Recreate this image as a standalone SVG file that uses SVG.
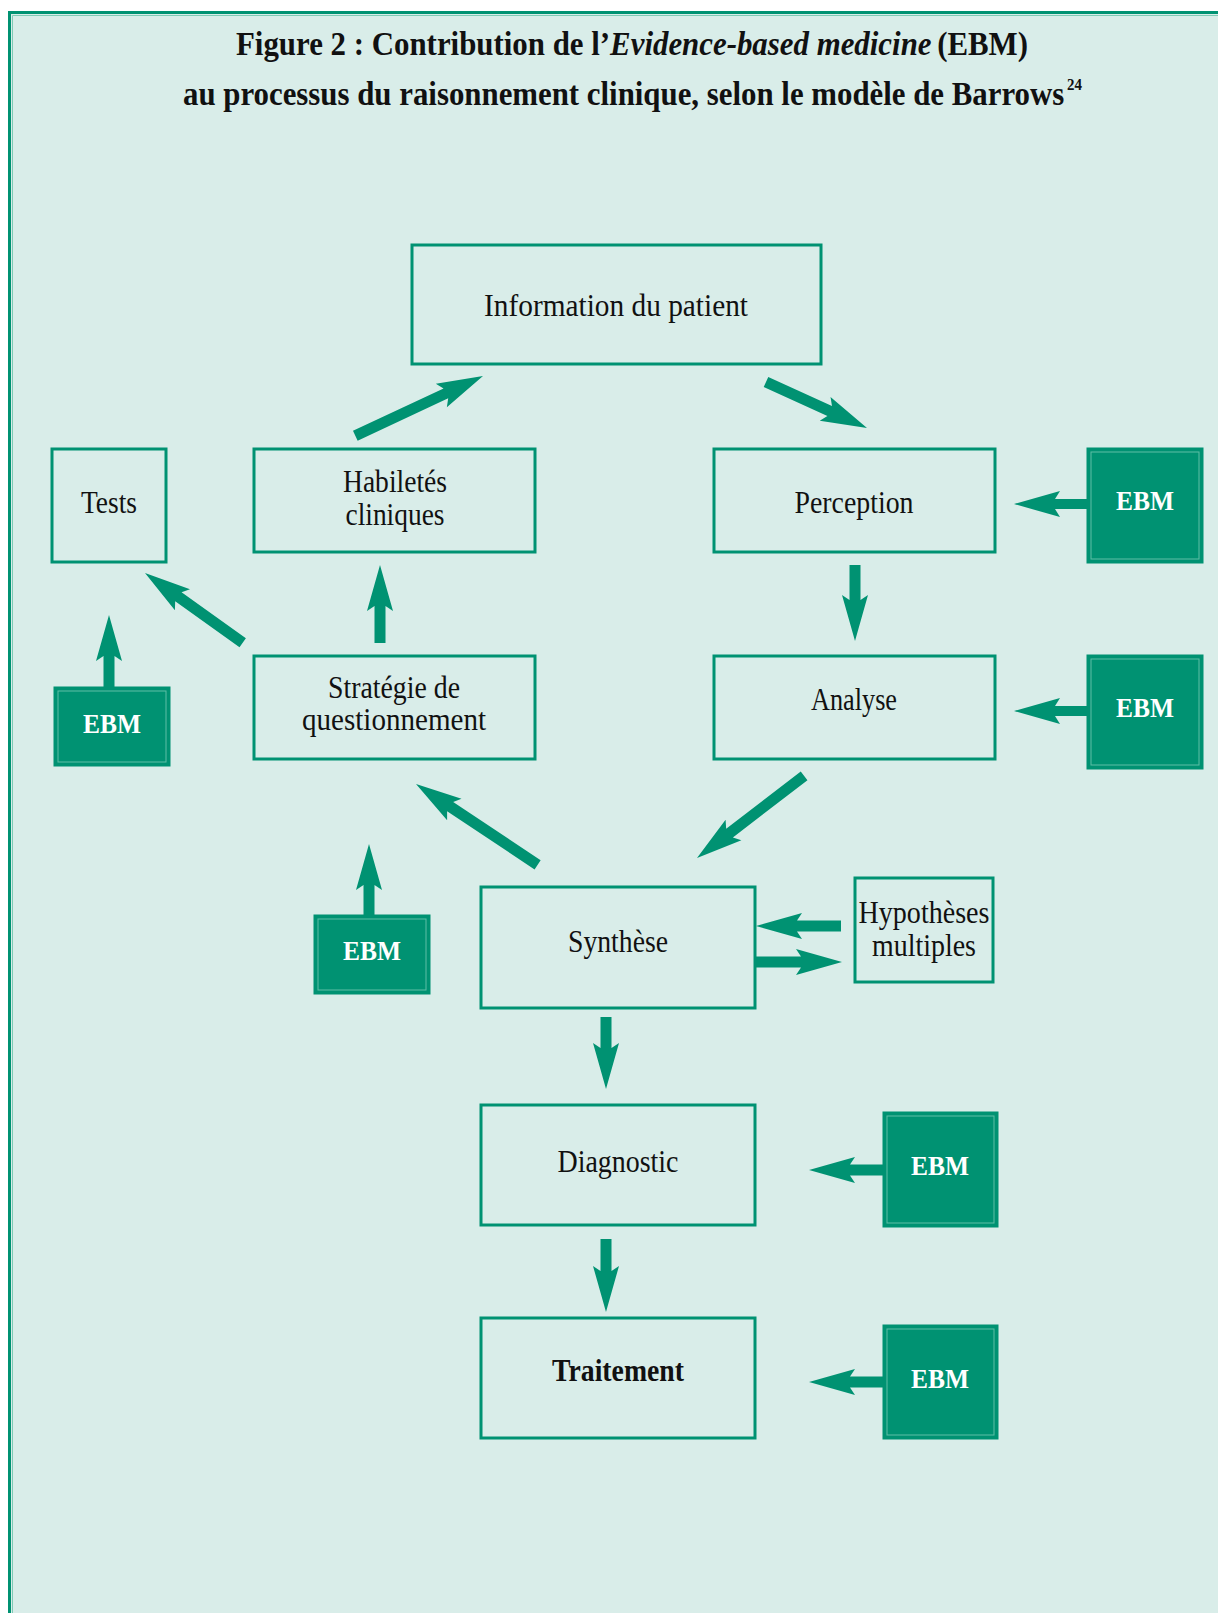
<svg xmlns="http://www.w3.org/2000/svg" width="1218" height="1613" viewBox="0 0 1218 1613">
<style>
.box{fill:#d9ede9;stroke:#009272;stroke-width:3}
.ebm{fill:#009272;stroke:#009272;stroke-width:3}
.ebmin{fill:none;stroke:#5fbea6;stroke-width:1}
.lbl{font-family:"Liberation Serif",serif;font-size:31px;fill:#111;text-anchor:middle}
.ebmt{font-family:"Liberation Serif",serif;font-size:27px;font-weight:bold;fill:#fff;text-anchor:middle}
.title{font-family:"Liberation Serif",serif;font-size:33px;font-weight:bold;fill:#111}
.arr{fill:#009272}
</style>
<rect x="0" y="0" width="1218" height="1613" fill="#ffffff"/>
<rect x="9.5" y="12.5" width="1220" height="1610" fill="#d9ede9"/>
<path d="M9.5,1613 V12.5 H1218" fill="none" stroke="#009272" stroke-width="3"/>
<path d="M12.5,1613 V15.5 H1218" fill="none" stroke="#7fcab5" stroke-width="1"/>

<g id="title">
<text class="title" x="236" y="55" textLength="792" lengthAdjust="spacingAndGlyphs">Figure 2 : Contribution de l’<tspan font-style="italic">Evidence-based medicine</tspan><tspan dx="6">(EBM)</tspan></text>
<text class="title" x="183" y="105" textLength="899" lengthAdjust="spacingAndGlyphs">au processus du raisonnement clinique, selon le modèle de Barrows<tspan font-size="16" dx="3" dy="-15">24</tspan></text>
</g>

<g id="connectors">
<path class="arr" transform="translate(483,376) rotate(-25.1)" d="M0,0 L-46,-13 L-41,-5.5 L-141,-5.5 L-141,5.5 L-41,5.5 L-46,13 Z"/>
<path class="arr" transform="translate(867,428) rotate(24.5)" d="M0,0 L-46,-13 L-41,-5.5 L-111,-5.5 L-111,5.5 L-41,5.5 L-46,13 Z"/>
<path class="arr" transform="translate(855,641) rotate(90)" d="M0,0 L-46,-13 L-41,-5.5 L-76,-5.5 L-76,5.5 L-41,5.5 L-46,13 Z"/>
<path class="arr" transform="translate(1014,504) rotate(180)" d="M0,0 L-46,-13 L-41,-5 L-74,-5 L-74,5 L-41,5 L-46,13 Z"/>
<path class="arr" transform="translate(1014,711) rotate(180)" d="M0,0 L-46,-13 L-41,-5 L-74,-5 L-74,5 L-41,5 L-46,13 Z"/>
<path class="arr" transform="translate(697,858) rotate(142.5)" d="M0,0 L-46,-13 L-41,-5.5 L-135,-5.5 L-135,5.5 L-41,5.5 L-46,13 Z"/>
<path class="arr" transform="translate(416,784) rotate(-146.4)" d="M0,0 L-46,-13 L-41,-5.5 L-146,-5.5 L-146,5.5 L-41,5.5 L-46,13 Z"/>
<path class="arr" transform="translate(380,565) rotate(-90)" d="M0,0 L-46,-13 L-41,-5.5 L-78,-5.5 L-78,5.5 L-41,5.5 L-46,13 Z"/>
<path class="arr" transform="translate(145,573) rotate(-144.5)" d="M0,0 L-46,-13 L-41,-5.5 L-120,-5.5 L-120,5.5 L-41,5.5 L-46,13 Z"/>
<path class="arr" transform="translate(109,615) rotate(-90)" d="M0,0 L-46,-13 L-41,-5.5 L-73,-5.5 L-73,5.5 L-41,5.5 L-46,13 Z"/>
<path class="arr" transform="translate(369,844) rotate(-90)" d="M0,0 L-46,-13 L-41,-5.5 L-72,-5.5 L-72,5.5 L-41,5.5 L-46,13 Z"/>
<path class="arr" transform="translate(756,926) rotate(180)" d="M0,0 L-46,-13 L-41,-5.5 L-85,-5.5 L-85,5.5 L-41,5.5 L-46,13 Z"/>
<path class="arr" transform="translate(842,962) rotate(0)" d="M0,0 L-46,-13 L-41,-5.5 L-87,-5.5 L-87,5.5 L-41,5.5 L-46,13 Z"/>
<path class="arr" transform="translate(606,1089) rotate(90)" d="M0,0 L-46,-13 L-41,-5.5 L-72,-5.5 L-72,5.5 L-41,5.5 L-46,13 Z"/>
<path class="arr" transform="translate(606,1312) rotate(90)" d="M0,0 L-46,-13 L-41,-5.5 L-73,-5.5 L-73,5.5 L-41,5.5 L-46,13 Z"/>
<path class="arr" transform="translate(809,1170) rotate(180)" d="M0,0 L-46,-13 L-41,-5.5 L-74,-5.5 L-74,5.5 L-41,5.5 L-46,13 Z"/>
<path class="arr" transform="translate(809,1382) rotate(180)" d="M0,0 L-46,-13 L-41,-5.5 L-74,-5.5 L-74,5.5 L-41,5.5 L-46,13 Z"/>
</g>

<g id="info">
<rect class="box" x="412" y="245" width="409" height="119"/>
<text class="lbl" x="616" y="316" textLength="264" lengthAdjust="spacingAndGlyphs">Information du patient</text>
</g>
<g id="tests">
<rect class="box" x="52" y="449" width="114" height="113"/>
<text class="lbl" x="109" y="513" textLength="56" lengthAdjust="spacingAndGlyphs">Tests</text>
</g>
<g id="habiletes">
<rect class="box" x="254" y="449" width="281" height="103"/>
<text class="lbl" x="395" y="492" textLength="104" lengthAdjust="spacingAndGlyphs">Habiletés</text>
<text class="lbl" x="395" y="525" textLength="99" lengthAdjust="spacingAndGlyphs">cliniques</text>
</g>
<g id="perception">
<rect class="box" x="714" y="449" width="281" height="103"/>
<text class="lbl" x="854" y="513" textLength="119" lengthAdjust="spacingAndGlyphs">Perception</text>
</g>
<g id="strategie">
<rect class="box" x="254" y="656" width="281" height="103"/>
<text class="lbl" x="394" y="698" textLength="132" lengthAdjust="spacingAndGlyphs">Stratégie de</text>
<text class="lbl" x="394" y="730" textLength="184" lengthAdjust="spacingAndGlyphs">questionnement</text>
</g>
<g id="analyse">
<rect class="box" x="714" y="656" width="281" height="103"/>
<text class="lbl" x="854" y="710" textLength="86" lengthAdjust="spacingAndGlyphs">Analyse</text>
</g>
<g id="synthese">
<rect class="box" x="481" y="887" width="274" height="121"/>
<text class="lbl" x="618" y="952" textLength="100" lengthAdjust="spacingAndGlyphs">Synthèse</text>
</g>
<g id="hypotheses">
<rect class="box" x="855" y="878" width="138" height="104"/>
<text class="lbl" x="924" y="923" textLength="131" lengthAdjust="spacingAndGlyphs">Hypothèses</text>
<text class="lbl" x="924" y="956" textLength="104" lengthAdjust="spacingAndGlyphs">multiples</text>
</g>
<g id="diagnostic">
<rect class="box" x="481" y="1105" width="274" height="120"/>
<text class="lbl" x="618" y="1172" textLength="121" lengthAdjust="spacingAndGlyphs">Diagnostic</text>
</g>
<g id="traitement">
<rect class="box" x="481" y="1318" width="274" height="120"/>
<text class="lbl" x="618" y="1381" font-weight="bold" textLength="132" lengthAdjust="spacingAndGlyphs">Traitement</text>
</g>

<g id="ebm-perception">
<rect class="ebm" x="1088" y="449" width="114" height="113"/>
<rect class="ebmin" x="1091" y="452" width="108" height="107"/>
<text class="ebmt" x="1145" y="510" textLength="58" lengthAdjust="spacingAndGlyphs">EBM</text>
</g>
<g id="ebm-analyse">
<rect class="ebm" x="1088" y="656" width="114" height="112"/>
<rect class="ebmin" x="1091" y="659" width="108" height="106"/>
<text class="ebmt" x="1145" y="717" textLength="58" lengthAdjust="spacingAndGlyphs">EBM</text>
</g>
<g id="ebm-tests">
<rect class="ebm" x="55" y="688" width="114" height="77"/>
<rect class="ebmin" x="58" y="691" width="108" height="71"/>
<text class="ebmt" x="112" y="733" textLength="58" lengthAdjust="spacingAndGlyphs">EBM</text>
</g>
<g id="ebm-strategie">
<rect class="ebm" x="315" y="916" width="114" height="77"/>
<rect class="ebmin" x="318" y="919" width="108" height="71"/>
<text class="ebmt" x="372" y="960" textLength="58" lengthAdjust="spacingAndGlyphs">EBM</text>
</g>
<g id="ebm-diagnostic">
<rect class="ebm" x="884" y="1113" width="113" height="113"/>
<rect class="ebmin" x="887" y="1116" width="107" height="107"/>
<text class="ebmt" x="940" y="1175" textLength="58" lengthAdjust="spacingAndGlyphs">EBM</text>
</g>
<g id="ebm-traitement">
<rect class="ebm" x="884" y="1326" width="113" height="112"/>
<rect class="ebmin" x="887" y="1329" width="107" height="106"/>
<text class="ebmt" x="940" y="1388" textLength="58" lengthAdjust="spacingAndGlyphs">EBM</text>
</g>
</svg>
